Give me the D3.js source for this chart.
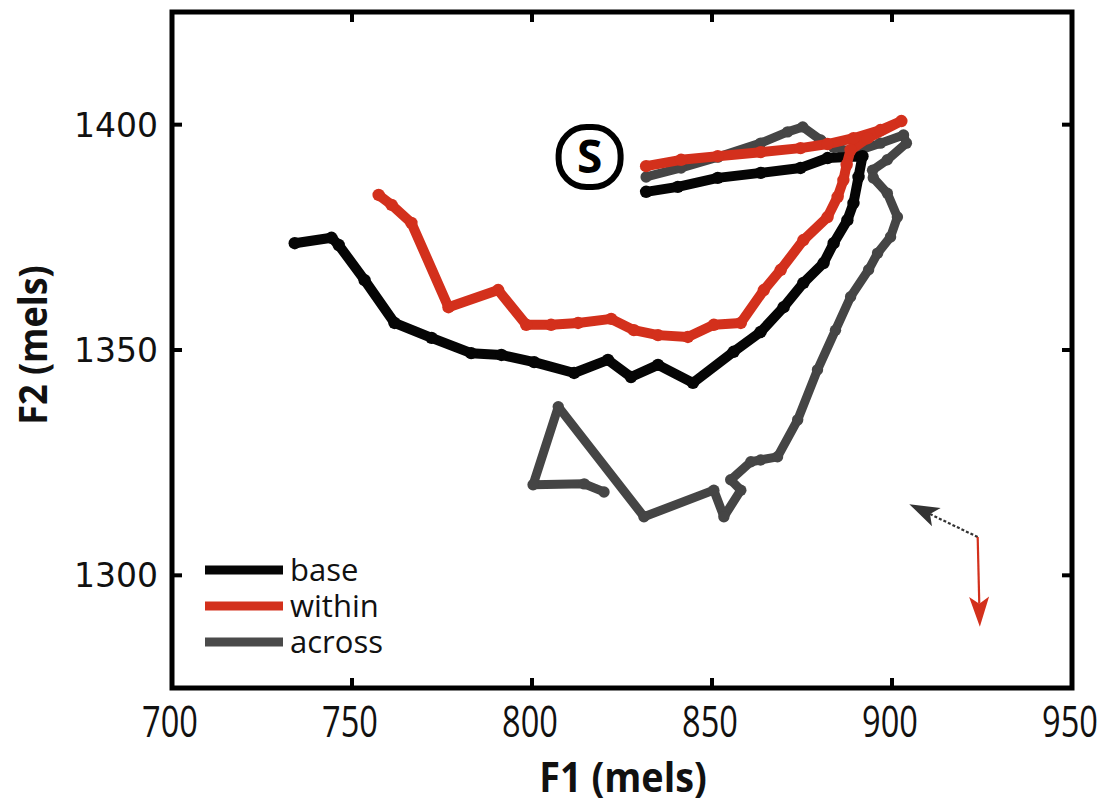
<!DOCTYPE html>
<html>
<head>
<meta charset="utf-8">
<script src="https://cdn.jsdelivr.net/npm/d3@7"></script>
<style>
  html, body { margin: 0; padding: 0; background: #fff; }
  svg { display: block; }
</style>
</head>
<body>
<svg id="chart" width="1098" height="808"></svg>
<script>
// Formant trajectories in the F1/F2 plane (mels), each starting at S.
const baseF1 = [831.7, 840.5, 851.6, 863.5, 874.6, 882.1, 891.8, 890.7, 889.3, 887.6, 883.8, 881.0, 875.4, 869.9, 863.5, 856.0, 844.7, 835.0, 827.5, 821.1, 811.7, 800.6, 791.5, 783.1, 772.1, 761.8, 753.5, 746.3, 744.3, 734.1];
const baseF2 = [1385.1, 1386.2, 1388.2, 1389.3, 1390.4, 1392.6, 1393.0, 1388.4, 1382.6, 1378.8, 1373.7, 1369.3, 1364.9, 1359.5, 1354.0, 1349.6, 1342.7, 1346.7, 1344.0, 1347.8, 1344.9, 1347.3, 1348.9, 1349.3, 1352.7, 1356.0, 1365.5, 1373.3, 1374.9, 1373.7];

const withinF1 = [831.7, 841.4, 851.6, 863.5, 874.6, 882.1, 889.3, 896.8, 902.6, 893.2, 888.5, 887.4, 886.5, 884.9, 882.1, 875.4, 869.1, 864.4, 858.0, 850.5, 843.3, 835.0, 828.3, 822.0, 812.8, 805.3, 798.4, 790.6, 776.8, 766.5, 761.0, 757.4];
const withinF2 = [1390.8, 1392.2, 1393.0, 1393.9, 1394.8, 1395.7, 1397.0, 1398.8, 1400.8, 1397.0, 1394.4, 1391.1, 1387.7, 1384.0, 1379.5, 1374.4, 1367.8, 1363.3, 1356.0, 1355.6, 1352.9, 1353.3, 1354.4, 1356.9, 1356.0, 1355.6, 1355.6, 1363.3, 1359.5, 1378.2, 1382.2, 1384.4];

const acrossF1 = [831.7, 841.4, 851.6, 863.5, 871.0, 875.2, 880.2, 883.8, 889.3, 896.8, 903.2, 904.0, 898.7, 894.6, 894.8, 898.7, 901.5, 899.6, 896.0, 893.5, 888.5, 884.3, 879.3, 873.8, 868.2, 863.5, 860.8, 855.2, 858.0, 853.3, 850.5, 831.1, 807.3, 800.3, 814.5, 820.0];
const acrossF2 = [1388.4, 1390.4, 1392.8, 1395.9, 1398.4, 1399.5, 1396.6, 1395.0, 1393.9, 1395.9, 1397.7, 1395.9, 1392.2, 1389.9, 1388.2, 1384.8, 1379.5, 1375.1, 1371.5, 1367.8, 1361.8, 1354.4, 1345.6, 1334.5, 1326.3, 1325.6, 1325.2, 1321.2, 1318.9, 1313.0, 1318.9, 1313.0, 1337.4, 1320.1, 1320.3, 1318.5];

const seriesNames = ["base", "within", "across"];
const seriesColors = ["#050505", "#d3301c", "#454545"];

const xTicks = [700, 750, 800, 850, 900, 950];
const yTicks = [1300, 1350, 1400];

// Direction key: origin and the two arrow tips (F1, F2)
const keyOrigin = [923.8, 1308.5];
const keyTipAcross = [904.8, 1315.8];
const keyTipWithin = [924.4, 1288.6];

// Start marker position
const startLabel = [816.0, 1392.8];

const svg = d3.select("#chart");
const x = d3.scaleLinear().domain([700, 950]).range([172, 1072]);
const y = d3.scaleLinear().domain([1275, 1425]).range([688, 12]);

const series = [
  { name: seriesNames[0], color: seriesColors[0], f1: baseF1, f2: baseF2, width: 10 },
  { name: seriesNames[1], color: seriesColors[1], f1: withinF1, f2: withinF2, width: 10 },
  { name: seriesNames[2], color: seriesColors[2], f1: acrossF1, f2: acrossF2, width: 9 }
];

const line = d3.line().x(d => x(d[0])).y(d => y(d[1])).curve(d3.curveLinear);

// draw order: across underneath, then base, then within on top
const drawOrder = [2, 0, 1];
drawOrder.forEach(i => {
  const s = series[i];
  const pts = s.f1.map((v, k) => [v, s.f2[k]]);
  const g = svg.append("g").attr("class", "trace-" + s.name);
  g.append("path")
    .datum(pts)
    .attr("d", line)
    .attr("fill", "none")
    .attr("stroke", s.color)
    .attr("stroke-width", s.width)
    .attr("stroke-linejoin", "round")
    .attr("stroke-linecap", "round");
  g.selectAll("circle")
    .data(pts)
    .join("circle")
    .attr("cx", d => x(d[0]))
    .attr("cy", d => y(d[1]))
    .attr("r", s.width / 2 + 1.2)
    .attr("fill", s.color);
});

// Axes box with inward ticks on all four sides
const [x0, x1] = x.range();
const [y0, y1] = y.range();
const frame = svg.append("g");
const tickLen = 10;
xTicks.forEach(t => {
  frame.append("line").attr("x1", x(t)).attr("x2", x(t)).attr("y1", y0).attr("y2", y0 - tickLen)
    .attr("stroke", "#000").attr("stroke-width", 4);
  frame.append("line").attr("x1", x(t)).attr("x2", x(t)).attr("y1", y1).attr("y2", y1 + tickLen)
    .attr("stroke", "#000").attr("stroke-width", 4);
});
yTicks.forEach(t => {
  frame.append("line").attr("x1", x0).attr("x2", x0 + tickLen).attr("y1", y(t)).attr("y2", y(t))
    .attr("stroke", "#000").attr("stroke-width", 4);
  frame.append("line").attr("x1", x1).attr("x2", x1 - tickLen).attr("y1", y(t)).attr("y2", y(t))
    .attr("stroke", "#000").attr("stroke-width", 4);
});
frame.append("rect")
  .attr("x", x0).attr("y", y1)
  .attr("width", x1 - x0).attr("height", y0 - y1)
  .attr("fill", "none").attr("stroke", "#000").attr("stroke-width", 5);

// Tick labels (x labels are set in a condensed face)
svg.append("g").selectAll("text")
  .data(xTicks)
  .join("text")
  .attr("transform", d => `translate(${x(d) - 2},737) scale(0.74,1)`)
  .attr("text-anchor", "middle")
  .attr("font-family", "'Open Sans', sans-serif")
  .attr("font-size", 44)
  .attr("fill", "#111")
  .text(d => d);

svg.append("g").selectAll("text")
  .data(yTicks)
  .join("text")
  .attr("x", 158)
  .attr("y", d => y(d) + 12)
  .attr("text-anchor", "end")
  .attr("font-family", "'DejaVu Sans', sans-serif")
  .attr("font-size", 33)
  .attr("fill", "#111")
  .text(d => d);

// Axis titles
svg.append("text")
  .attr("transform", "translate(623,792) scale(0.9,1)")
  .attr("text-anchor", "middle")
  .attr("font-family", "'Open Sans', sans-serif")
  .attr("font-weight", "bold")
  .attr("font-size", 42)
  .attr("fill", "#111")
  .text("F1 (mels)");

svg.append("text")
  .attr("transform", "translate(47,345) rotate(-90) scale(0.9,1)")
  .attr("text-anchor", "middle")
  .attr("font-family", "'Open Sans', sans-serif")
  .attr("font-weight", "bold")
  .attr("font-size", 40)
  .attr("fill", "#111")
  .text("F2 (mels)");

// Start marker
const sx = x(startLabel[0]), sy = y(startLabel[1]);
svg.append("rect")
  .attr("x", sx - 31).attr("y", sy - 30)
  .attr("width", 62).attr("height", 60)
  .attr("rx", 28).attr("ry", 28)
  .attr("fill", "#fff").attr("stroke", "#000").attr("stroke-width", 6);
svg.append("text")
  .attr("x", sx).attr("y", sy + 16)
  .attr("text-anchor", "middle")
  .attr("font-family", "'Open Sans', sans-serif")
  .attr("font-weight", "bold")
  .attr("font-size", 46)
  .attr("fill", "#000")
  .text("S");

// Legend
const legend = svg.append("g");
series.forEach((s, i) => {
  const ly = 570 + i * 36;
  legend.append("line")
    .attr("x1", 205).attr("x2", 283)
    .attr("y1", ly).attr("y2", ly)
    .attr("stroke", i === 2 ? "#4a4a4a" : s.color)
    .attr("stroke-width", 9);
  legend.append("text")
    .attr("x", 290).attr("y", ly + 11)
    .attr("font-family", "'Open Sans', sans-serif")
    .attr("font-size", 31)
    .attr("fill", "#111")
    .text(s.name);
});

// Direction key arrows: a shaft plus a filled head built along the shaft direction
function drawArrow(from, to, color, dashed) {
  const ax = x(from[0]), ay = y(from[1]);
  const bx = x(to[0]), by = y(to[1]);
  const dx = bx - ax, dy = by - ay;
  const len = Math.hypot(dx, dy);
  const ux = dx / len, uy = dy / len;
  const px = -uy, py = ux;
  const headLen = 30, headHalf = 10, notch = 7;
  const baseX = bx - ux * headLen, baseY = by - uy * headLen;
  svg.append("line")
    .attr("x1", ax).attr("y1", ay)
    .attr("x2", baseX + ux * notch).attr("y2", baseY + uy * notch)
    .attr("stroke", color).attr("stroke-width", 2.2)
    .attr("stroke-dasharray", dashed ? "3,2" : null);
  const head = [
    [bx, by],
    [baseX + px * headHalf, baseY + py * headHalf],
    [baseX + ux * notch, baseY + uy * notch],
    [baseX - px * headHalf, baseY - py * headHalf]
  ];
  svg.append("path")
    .attr("d", d3.line()(head) + "Z")
    .attr("fill", color);
}
drawArrow(keyOrigin, keyTipAcross, "#333", true);
drawArrow(keyOrigin, keyTipWithin, "#d3301c", false);
</script>
</body>
</html>
